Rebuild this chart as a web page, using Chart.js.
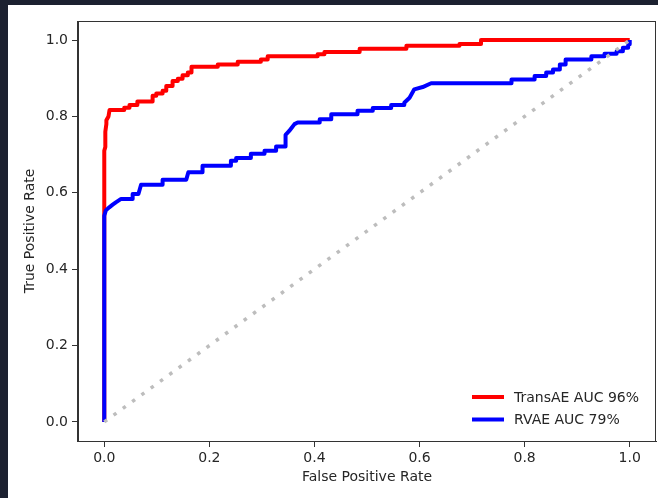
<!DOCTYPE html>
<html>
<head>
<meta charset="utf-8">
<script src="https://cdn.jsdelivr.net/npm/chart.js@4/dist/chart.umd.min.js"></script>
<style>
  html, body { margin: 0; padding: 0; background: #1c2130; }
  #c { display: block; }
</style>
</head>
<body>
<canvas id="c" width="658" height="498"></canvas>
<script>
const seriesLabels = ['TransAE AUC 96%', 'RVAE AUC 79%'];
const transaeFpr = [0,0,0.002,0.002,0.004,0.004,0.008,0.01,0.038,0.038,0.048,0.048,0.063,0.063,0.092,0.092,0.099,0.099,0.111,0.111,0.118,0.118,0.13,0.13,0.14,0.14,0.149,0.149,0.159,0.159,0.166,0.166,0.216,0.216,0.254,0.254,0.298,0.298,0.311,0.311,0.406,0.406,0.419,0.419,0.486,0.486,0.575,0.575,0.676,0.676,0.717,0.717,1.0];
const transaeTpr = [0,0.71,0.72,0.76,0.78,0.79,0.80,0.817,0.817,0.823,0.823,0.830,0.830,0.839,0.839,0.854,0.854,0.860,0.860,0.867,0.867,0.880,0.880,0.893,0.893,0.899,0.899,0.908,0.908,0.915,0.915,0.930,0.930,0.936,0.936,0.943,0.943,0.949,0.949,0.958,0.958,0.963,0.963,0.969,0.969,0.977,0.977,0.985,0.985,0.990,0.990,1.0,1.0];
const rvaeFpr = [0,0,0.003,0.0095,0.016,0.022,0.032,0.054,0.054,0.065,0.07,0.111,0.111,0.156,0.16,0.187,0.187,0.241,0.241,0.251,0.251,0.279,0.279,0.305,0.305,0.327,0.327,0.345,0.345,0.352,0.362,0.368,0.41,0.41,0.432,0.432,0.482,0.482,0.511,0.511,0.546,0.546,0.571,0.571,0.581,0.59,0.606,0.622,0.775,0.775,0.819,0.819,0.841,0.841,0.854,0.854,0.867,0.867,0.878,0.878,0.927,0.927,0.952,0.952,0.975,0.975,0.987,0.987,0.997,0.997,1.0,1.0];
const rvaeTpr = [0,0.54,0.554,0.562,0.569,0.575,0.584,0.584,0.597,0.597,0.621,0.621,0.634,0.634,0.654,0.654,0.671,0.671,0.684,0.684,0.691,0.691,0.702,0.702,0.710,0.710,0.721,0.721,0.752,0.762,0.780,0.784,0.784,0.793,0.793,0.806,0.806,0.815,0.815,0.822,0.822,0.830,0.830,0.836,0.849,0.871,0.877,0.887,0.887,0.897,0.897,0.906,0.906,0.915,0.915,0.923,0.923,0.936,0.936,0.949,0.949,0.958,0.958,0.964,0.964,0.971,0.971,0.980,0.980,0.989,0.989,1.0];
const diagFpr = [0, 1];
const diagTpr = [0, 1];
const xTicks = [0, 0.2, 0.4, 0.6, 0.8, 1.0];
const yTicks = [0, 0.2, 0.4, 0.6, 0.8, 1.0];
const xTitle = 'False Positive Rate';
const yTitle = 'True Positive Rate';

const toPts = (xs, ys) => xs.map((x, i) => ({x: x, y: ys[i]}));
const FONT = 'DejaVu Sans';
const FS = 14;
const TXT = '#262626';

const bgPlugin = {
  id: 'bg',
  beforeDraw(chart) {
    const ctx = chart.ctx;
    ctx.save();
    ctx.fillStyle = '#1c2130';
    ctx.fillRect(0, 0, chart.width, chart.height);
    ctx.fillStyle = '#ffffff';
    ctx.fillRect(8, 5, chart.width - 8, chart.height - 5);
    ctx.restore();
  },
  afterDraw(chart) {
    const ctx = chart.ctx;
    const a = chart.chartArea;
    ctx.save();
    ctx.strokeStyle = '#333';
    ctx.lineWidth = 1;
    ctx.strokeRect(Math.round(a.left) - 0.5, Math.round(a.top) + 0.5, Math.round(a.right - a.left), Math.round(a.bottom - a.top));
    // legend: TransAE (dataset 2), RVAE (dataset 1)
    const ds = chart.data.datasets;
    const items = [2, 1];
    ctx.font = FS + 'px "' + FONT + '"';
    ctx.textBaseline = 'middle';
    ctx.textAlign = 'left';
    items.forEach((idx, k) => {
      const y = 397 + k * 22.5;
      ctx.strokeStyle = ds[idx].borderColor;
      ctx.lineWidth = 4;
      ctx.beginPath();
      ctx.moveTo(472, y);
      ctx.lineTo(504, y);
      ctx.stroke();
      ctx.fillStyle = TXT;
      ctx.fillText(ds[idx].label, 514, y + 1);
    });
    ctx.restore();
  }
};

new Chart(document.getElementById('c'), {
  type: 'scatter',
  data: {
    datasets: [
      { label: 'diag', data: toPts(diagFpr, diagTpr), showLine: true, borderColor: '#bdbdbd', borderWidth: 3.5, borderDash: [3.5, 8], pointRadius: 0, fill: false, order: 0 },
      { label: seriesLabels[1], data: toPts(rvaeFpr, rvaeTpr), showLine: true, borderColor: '#0000ff', borderWidth: 4, pointRadius: 0, fill: false, tension: 0, order: 1, borderJoinStyle: 'round' },
      { label: seriesLabels[0], data: toPts(transaeFpr, transaeTpr), showLine: true, borderColor: '#ff0000', borderWidth: 4, pointRadius: 0, fill: false, tension: 0, order: 2, borderJoinStyle: 'round' }
    ]
  },
  options: {
    responsive: false,
    animation: false,
    devicePixelRatio: 1,
    layout: { padding: { left: 0, right: 2, top: 21, bottom: 0 } },
    plugins: { legend: { display: false }, tooltip: { enabled: false } },
    scales: {
      x: {
        type: 'linear', min: -0.05, max: 1.05,
        afterBuildTicks: (ax) => { ax.ticks = xTicks.map(v => ({value: v})); },
        afterFit: (ax) => { ax.height = 57; },
        ticks: { callback: (v) => v.toFixed(1), color: TXT, font: { family: FONT, size: FS }, padding: 3, maxRotation: 0, autoSkip: false },
        grid: { drawOnChartArea: false, drawTicks: true, tickLength: 6, color: '#333' },
        border: { display: true, color: '#333' },
        title: { display: true, text: xTitle, color: TXT, font: { family: FONT, size: FS }, padding: { top: 0, bottom: 12 } }
      },
      y: {
        type: 'linear', min: -0.05, max: 1.05,
        afterBuildTicks: (ax) => { ax.ticks = yTicks.map(v => ({value: v})); },
        afterFit: (ax) => { ax.width = 78; },
        ticks: { callback: (v) => v.toFixed(1), color: TXT, font: { family: FONT, size: FS }, padding: 4, autoSkip: false },
        grid: { drawOnChartArea: false, drawTicks: true, tickLength: 6, color: '#333' },
        border: { display: true, color: '#333' },
        title: { display: true, text: yTitle, color: TXT, font: { family: FONT, size: FS }, padding: { top: 22, bottom: 0 } }
      }
    }
  },
  plugins: [bgPlugin]
});
</script>
</body>
</html>
